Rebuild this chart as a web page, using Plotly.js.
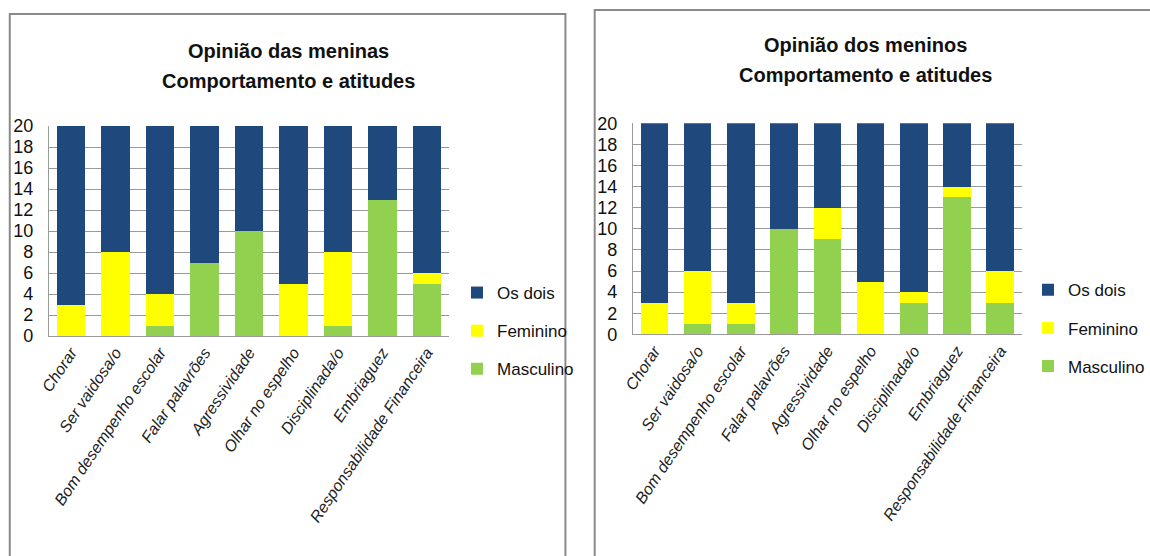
<!DOCTYPE html>
<html>
<head>
<meta charset="utf-8">
<script src="https://cdn.plot.ly/plotly-3.0.1.min.js"></script>
<style>
html,body{margin:0;padding:0;background:#fff;overflow:hidden;}
#chart{width:1150px;height:556px;}
</style>
</head>
<body>
<div id="chart"></div>
<script>
// ---- data ----
const categorias = ['Chorar','Ser vaidosa/o','Bom desempenho escolar','Falar palavrões','Agressividade','Olhar no espelho','Disciplinada/o','Embriaguez','Responsabilidade Financeira'];
const seriesNomes = ['Masculino','Feminino','Os dois'];
const meninasMasculino = [0,0,1,7,10,0,1,13,5];
const meninasFeminino  = [3,8,3,0,0,5,7,0,1];
const meninasOsDois    = [17,12,16,13,10,15,12,7,14];
const meninosMasculino = [0,1,1,10,9,0,3,13,3];
const meninosFeminino  = [3,5,2,0,3,5,1,1,3];
const meninosOsDois    = [17,14,17,10,8,15,16,6,14];
const yTicks = [0,2,4,6,8,10,12,14,16,18,20];
const tituloMeninas = ['Opinião das meninas','Comportamento e atitudes'];
const tituloMeninos = ['Opinião dos meninos','Comportamento e atitudes'];

// ---- style ----
const W = 1150, H = 556;
const cores = {'Masculino':'#92D050','Feminino':'#FFFF00','Os dois':'#1F497D'};
const rank = {'Os dois':1,'Feminino':2,'Masculino':3};
const FONT = 'Liberation Sans, Arial, sans-serif';
const px = v => v / W;
const py = v => 1 - v / H;

function makeTraces(vals, xa, ya, legendId){
  return seriesNomes.map((nome, i) => ({
    type:'bar', name:nome, x:categorias, y:vals[i],
    xaxis:xa, yaxis:ya, legend:legendId, legendgroup:legendId+nome, legendrank:rank[nome],
    marker:{color:cores[nome], line:{width:0}},
    hoverinfo:'skip'
  }));
}

const data = [
  ...makeTraces([meninasMasculino, meninasFeminino, meninasOsDois], 'x', 'y', 'legend'),
  ...makeTraces([meninosMasculino, meninosFeminino, meninosOsDois], 'x2', 'y2', 'legend2')
];

const xCommon = {
  type:'category', range:[-0.5, 8.5], showgrid:false, zeroline:false,
  showline:true, linecolor:'#9a9a9a', linewidth:1, ticks:'',
  tickangle:-56, tickfont:{family:FONT, size:16, color:'#222', style:'italic'},
  fixedrange:true
};
const yCommon = {
  range:[0,20], tickvals:yTicks, ticktext:yTicks.map(String), showgrid:true, gridcolor:'#9a9a9a', gridwidth:1,
  zeroline:false, showline:true, linecolor:'#9a9a9a', linewidth:1, ticks:'',
  ticklabelstandoff:11, tickfont:{family:FONT, size:18, color:'#111'}, fixedrange:true
};
const legendCommon = {
  traceorder:'grouped', tracegroupgap:13, bgcolor:'rgba(0,0,0,0)', borderwidth:0,
  font:{family:FONT, size:17, color:'#111'}, xanchor:'left', yanchor:'middle', itemclick:false
};

function titleAnn(lines, cx, ys){
  return lines.map((t, i) => ({
    text:'<b>'+t+'</b>', xref:'paper', yref:'paper', x:px(cx), y:py(ys[i]),
    xanchor:'center', yanchor:'middle', showarrow:false,
    font:{family:FONT, size:20, color:'#111'}
  }));
}

const layout = {
  width:W, height:H, margin:{l:0,r:0,t:0,b:0},
  paper_bgcolor:'#fff', plot_bgcolor:'#fff',
  barmode:'stack', bargap:0.36,
  xaxis: Object.assign({}, xCommon, {domain:[px(50), px(460)], anchor:'y'}),
  yaxis: Object.assign({}, yCommon, {domain:[py(336), py(126)], anchor:'x'}),
  xaxis2: Object.assign({}, xCommon, {domain:[px(648), px(1046.5)], anchor:'y2'}),
  yaxis2: Object.assign({}, yCommon, {domain:[py(334.3), py(123.3)], anchor:'x2'}),
  legend: Object.assign({}, legendCommon, {x:px(468), y:py(331)}),
  legend2: Object.assign({}, legendCommon, {x:px(1053), y:py(328.3)}),
  showlegend:true,
  annotations:[
    ...titleAnn(tituloMeninas, 295, [51, 81]),
    ...titleAnn(tituloMeninos, 886, [45, 75])
  ],
  shapes:[
    {type:'rect', xref:'paper', yref:'paper', x0:px(10), x1:px(579), y0:-0.1, y1:py(14), line:{color:'#8a8a8a', width:2}, fillcolor:'rgba(0,0,0,0)', layer:'below'},
    {type:'rect', xref:'paper', yref:'paper', x0:px(609), x1:1.2, y0:-0.1, y1:py(10), line:{color:'#8a8a8a', width:2}, fillcolor:'rgba(0,0,0,0)', layer:'below'}
  ]
};

Plotly.newPlot('chart', data, layout, {staticPlot:true, displayModeBar:false});
</script>
</body>
</html>
